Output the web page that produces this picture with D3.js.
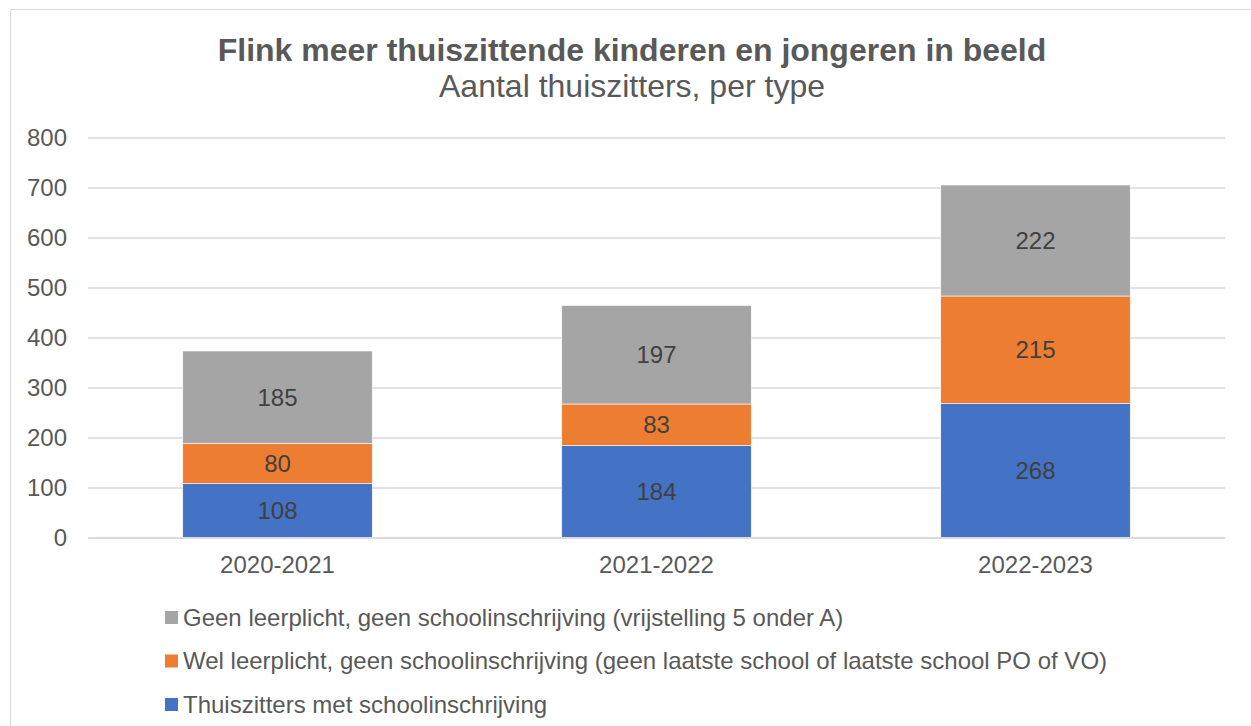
<!DOCTYPE html>
<html>
<head>
<meta charset="utf-8">
<script src="https://cdn.jsdelivr.net/npm/d3@7"></script>
<style>
  body { margin: 0; background: #fff; }
  text { font-family: "Liberation Sans", Arial, sans-serif; }
</style>
</head>
<body>
<svg id="chart" width="1251" height="726"></svg>
<script>
// data
var years = ["2020-2021", "2021-2022", "2022-2023"];
var metInschrijving = [108, 184, 268];
var welLeerplicht = [80, 83, 215];
var geenLeerplicht = [185, 197, 222];
var yTicks = [0, 100, 200, 300, 400, 500, 600, 700, 800];

var seriesNames = [
  "Thuiszitters met schoolinschrijving",
  "Wel leerplicht, geen schoolinschrijving (geen laatste school of laatste school PO of VO)",
  "Geen leerplicht, geen schoolinschrijving (vrijstelling 5 onder A)"
];
var colors = ["#4472c4", "#ed7d31", "#a5a5a5"];

var svg = d3.select("#chart"),
    WIDTH = 1251,
    MARGINS = { top: 137.5, right: 26, bottom: 188.5, left: 88 },
    HEIGHT = 726;

// chart frame
svg.append("rect")
  .attr("x", 10.5).attr("y", 9.5)
  .attr("width", 1260).attr("height", 740)
  .attr("fill", "none").attr("stroke", "#d9d9d9").attr("stroke-width", 1);

// titles
svg.append("text")
  .attr("x", 632).attr("y", 61)
  .attr("text-anchor", "middle")
  .style("font-size", "32px").style("font-weight", "bold")
  .attr("fill", "#595959")
  .text("Flink meer thuiszittende kinderen en jongeren in beeld");
svg.append("text")
  .attr("x", 632).attr("y", 97)
  .attr("text-anchor", "middle")
  .style("font-size", "32px")
  .attr("fill", "#595959")
  .text("Aantal thuiszitters, per type");

var table = years.map(function (y, i) {
  return { year: y, s0: metInschrijving[i], s1: welLeerplicht[i], s2: geenLeerplicht[i] };
});
var stack = d3.stack().keys(["s0", "s1", "s2"])(table);

var xScale = d3.scaleBand()
  .domain(years)
  .range([MARGINS.left, WIDTH - MARGINS.right])
  .paddingInner(0.5).paddingOuter(0.25);

var yScale = d3.scaleLinear()
  .domain([0, 800])
  .range([HEIGHT - MARGINS.bottom, MARGINS.top]);

// gridlines
var yAxis = d3.axisLeft(yScale)
  .tickValues(yTicks)
  .tickSize(-(WIDTH - MARGINS.right - MARGINS.left))
  .tickPadding(21);
var gy = svg.append("g")
  .attr("transform", "translate(" + MARGINS.left + ",0)")
  .call(yAxis);
gy.select(".domain").remove();
gy.selectAll("line").attr("stroke", "#d9d9d9").attr("stroke-width", 1.5);
gy.selectAll("text")
  .style("font-size", "24px")
  .attr("fill", "#595959")
  .attr("dy", "0.35em");

// bars
var layers = svg.append("g").selectAll("g")
  .data(stack)
  .enter().append("g")
  .attr("fill", function (d, i) { return colors[i]; });

layers.selectAll("rect")
  .data(function (d) { return d; })
  .enter().append("rect")
  .attr("x", function (d) { return xScale(d.data.year); })
  .attr("y", function (d) { return yScale(d[1]); })
  .attr("width", xScale.bandwidth())
  .attr("height", function (d) { return yScale(d[0]) - yScale(d[1]); })
  .attr("stroke", "#ffffff").attr("stroke-width", 0.6);

// data labels
layers.selectAll("text")
  .data(function (d) { return d; })
  .enter().append("text")
  .attr("x", function (d) { return xScale(d.data.year) + xScale.bandwidth() / 2; })
  .attr("y", function (d) { return (yScale(d[0]) + yScale(d[1])) / 2; })
  .attr("dy", "0.36em")
  .attr("text-anchor", "middle")
  .attr("fill", "#404040")
  .style("font-size", "24px")
  .text(function (d) { return d[1] - d[0]; });

// x axis
var xAxis = d3.axisBottom(xScale).tickSize(0).tickPadding(18);
var gx = svg.append("g")
  .attr("transform", "translate(0," + (HEIGHT - MARGINS.bottom) + ")")
  .call(xAxis);
gx.select(".domain").attr("stroke", "#d9d9d9").attr("stroke-width", 1.5);
gx.selectAll("text")
  .style("font-size", "24px")
  .attr("fill", "#595959")
  .attr("dy", "0.71em");

// legend (top to bottom: reverse order)
var legendOrder = [2, 1, 0];
var legend = svg.append("g").selectAll("g")
  .data(legendOrder)
  .enter().append("g")
  .attr("transform", function (d, i) { return "translate(165," + (617.5 + i * 43.5) + ")"; });
legend.append("rect")
  .attr("x", 0).attr("y", -6.5)
  .attr("width", 13).attr("height", 13)
  .attr("fill", function (d) { return colors[d]; });
legend.append("text")
  .attr("x", 18).attr("y", 0).attr("dy", "0.35em")
  .style("font-size", "24px")
  .attr("fill", "#595959")
  .text(function (d) { return seriesNames[d]; });
</script>
</body>
</html>
